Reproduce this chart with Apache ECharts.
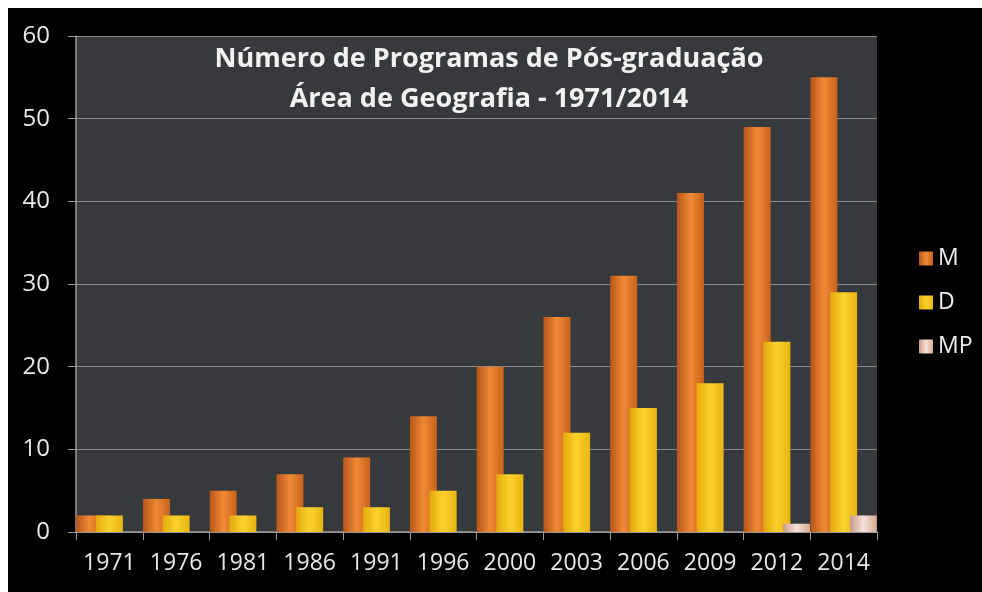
<!DOCTYPE html>
<html><head><meta charset="utf-8">
<script src="https://cdn.jsdelivr.net/npm/echarts@6/dist/echarts.min.js"></script>
<style>
html,body{margin:0;padding:0;background:#fff;width:982px;height:592px;overflow:hidden;}
#c{position:absolute;left:8px;top:8px;width:974px;height:584px;background:#000;}
</style></head>
<body><div id="c"></div>
<script>
var categories = ['1971','1976','1981','1986','1991','1996','2000','2003','2006','2009','2012','2014'];
var seriesM  = [2,4,5,7,9,14,20,26,31,41,49,55];
var seriesD  = [2,2,2,3,3,5,7,12,15,18,23,29];
var seriesMP = [0,0,0,0,0,0,0,0,0,0,1,2];
var yTicks = [0,10,20,30,40,50,60];

function grad(c1,c2,c3){
  return new echarts.graphic.LinearGradient(0,0,1,0,[
    {offset:0,color:c1},{offset:0.5,color:c2},{offset:1,color:c3}]);
}
var chart = echarts.init(document.getElementById('c'));
var font = 'Open Sans, sans-serif';
chart.setOption({
  backgroundColor:'#000',
  animation:false,
  title:{
    text:'Número de Programas de Pós-graduação\nÁrea de Geografia - 1971/2014',
    left:476, top:26, textAlign:'center',
    textStyle:{color:'#f2f2f2',fontSize:27,fontWeight:'bold',fontFamily:font,lineHeight:40}
  },
  legend:{
    orient:'vertical', left:906, top:234, itemGap:21,
    itemWidth:14, itemHeight:14, icon:'rect',
    textStyle:{color:'#f0f0f0',fontSize:23,fontFamily:font},
    data:['M','D','MP']
  },
  grid:{left:68,top:28,right:105,bottom:60,show:true,backgroundColor:'#363a3d',borderWidth:0},
  xAxis:{
    type:'category', data:categories,
    axisLine:{lineStyle:{color:'#9a9a9a',width:1.5}},
    axisTick:{show:true,length:8,lineStyle:{color:'#9a9a9a'}},
    axisLabel:{color:'#e8e8e8',fontSize:23,fontFamily:font,margin:20,interval:0,hideOverlap:false}
  },
  yAxis:{
    type:'value', min:yTicks[0], max:yTicks[yTicks.length-1], interval:10,
    axisLine:{show:true,lineStyle:{color:'#9a9a9a',width:1.5}},
    axisTick:{show:true,length:8,lineStyle:{color:'#9a9a9a'}},
    axisLabel:{color:'#e8e8e8',fontSize:24,fontFamily:font,margin:26},
    splitLine:{lineStyle:{color:'#8a8c8e',width:1.2}}
  },
  series:[
    {name:'M',type:'bar',data:seriesM,barWidth:27,barGap:'-27%',
     itemStyle:{color:grad('#b5561a','#f08a35','#c8621c')}},
    {name:'D',type:'bar',data:seriesD,barWidth:27,barGap:'-27%',
     itemStyle:{color:grad('#e3a90c','#fcd12c','#e8b512')}},
    {name:'MP',type:'bar',data:seriesMP,barWidth:27,barGap:'-27%',
     itemStyle:{color:grad('#c99a85','#f6e2d8','#d4a891')}}
  ]
});
</script></body></html>
